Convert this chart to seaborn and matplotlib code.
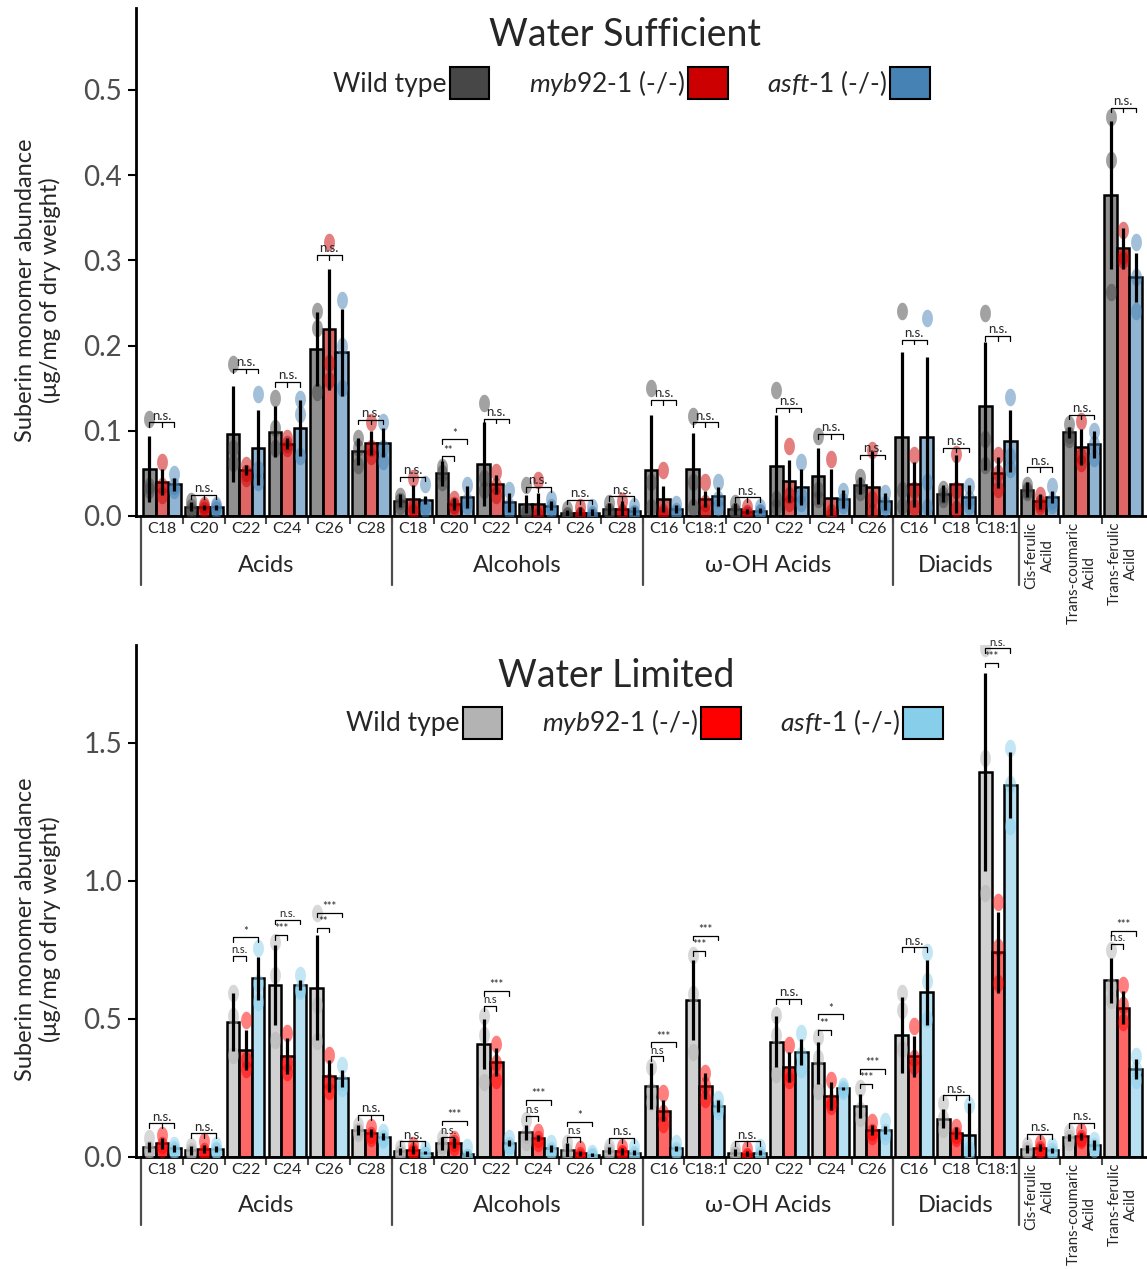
import numpy as np
import pandas as pd
import matplotlib
matplotlib.use('Agg')
import matplotlib.pyplot as plt
import matplotlib.colors as mcolors
from matplotlib.patches import Patch
import seaborn as sns

# --- estilo ---
sns.set_theme(style="ticks")
plt.rcParams['font.family'] = ['Lato', 'DejaVu Sans']
plt.rcParams['mathtext.fontset'] = 'custom'
plt.rcParams['mathtext.it'] = 'Lato:italic'
plt.rcParams['mathtext.rm'] = 'Lato'

# --- categorias ---
cat_labels = ['C18', 'C20', 'C22', 'C24', 'C26', 'C28',
              'C18', 'C20', 'C22', 'C24', 'C26', 'C28',
              'C16', 'C18:1', 'C20', 'C22', 'C24', 'C26',
              'C16', 'C18', 'C18:1',
              'Cis-ferulic\nAcild', 'Trans-coumaric\nAcild', 'Trans-ferulic\nAcild']
cat_groups = ['Acids'] * 6 + ['Alcohols'] * 6 + ['ω-OH Acids'] * 6 + ['Diacids'] * 3 + \
             ['Cis-ferulic', 'Trans-coumaric', 'Trans-ferulic']
group_names = ['Acids', 'Alcohols', 'ω-OH Acids', 'Diacids']
genotypes = ['Wild type', 'myb92-1', 'asft-1']
legend_labels = ['Wild type', r'$\mathit{myb92}$-1 (-/-)', r'$\mathit{asft}$-1 (-/-)']

# --- Water Sufficient ---
ws_wt_mean = [0.055, 0.011, 0.096, 0.099, 0.196, 0.076, 0.018, 0.050, 0.061, 0.014, 0.003, 0.008,
              0.054, 0.055, 0.008, 0.059, 0.047, 0.036, 0.093, 0.026, 0.129, 0.031, 0.098, 0.377]
ws_wt_err = [0.039, 0.005, 0.056, 0.030, 0.043, 0.016, 0.008, 0.015, 0.049, 0.011, 0.004, 0.007,
             0.065, 0.042, 0.007, 0.060, 0.033, 0.010, 0.099, 0.010, 0.075, 0.009, 0.006, 0.087]
ws_myb_mean = [0.040, 0.010, 0.054, 0.085, 0.219, 0.086, 0.020, 0.014, 0.037, 0.014, 0.004, 0.008,
               0.020, 0.020, 0.005, 0.041, 0.021, 0.034, 0.037, 0.037, 0.051, 0.017, 0.081, 0.314]
ws_myb_err = [0.015, 0.003, 0.006, 0.007, 0.071, 0.014, 0.016, 0.007, 0.011, 0.013, 0.007, 0.010,
              0.015, 0.009, 0.003, 0.025, 0.034, 0.042, 0.026, 0.034, 0.018, 0.009, 0.021, 0.024]
ws_asft_mean = [0.037, 0.010, 0.080, 0.103, 0.192, 0.086, 0.019, 0.022, 0.016, 0.012, 0.004, 0.006,
                0.008, 0.023, 0.006, 0.034, 0.020, 0.017, 0.093, 0.022, 0.088, 0.022, 0.084, 0.280]
ws_asft_err = [0.008, 0.003, 0.044, 0.033, 0.051, 0.017, 0.005, 0.013, 0.011, 0.005, 0.004, 0.005,
               0.005, 0.011, 0.003, 0.021, 0.011, 0.010, 0.093, 0.014, 0.036, 0.007, 0.016, 0.029]
ws_wt_pts = [(0.114, 0.035, 0.030), (0.018, 0.010, 0.006), (0.178, 0.080, 0.062), (0.139, 0.103, 0.080),
             (0.240, 0.220, 0.145), (0.092, 0.080, 0.060), (0.023, 0.018, 0.012), (0.058, 0.050, 0.040),
             (0.132, 0.045, 0.030), (0.036, 0.006, 0.004), (0.008, 0.001, 0.000), (0.015, 0.006, 0.004),
             (0.150, 0.040, 0.010), (0.117, 0.040, 0.010), (0.015, 0.006, 0.004), (0.148, 0.020, 0.010),
             (0.094, 0.030, 0.020), (0.046, 0.035, 0.028), (0.240, 0.030, 0.012), (0.032, 0.025, 0.020),
             (0.238, 0.090, 0.060), (0.036, 0.030, 0.028), (0.108, 0.095, 0.090), (0.468, 0.418, 0.263)]
ws_myb_pts = [(0.063, 0.035, 0.025), (0.013, 0.010, 0.007), (0.060, 0.050, 0.045), (0.092, 0.085, 0.080),
              (0.321, 0.180, 0.160), (0.110, 0.080, 0.070), (0.044, 0.010, 0.005), (0.020, 0.013, 0.010),
              (0.052, 0.035, 0.025), (0.042, 0.005, 0.000), (0.011, 0.001, 0.000), (0.018, 0.005, 0.002),
              (0.054, 0.005, 0.001), (0.040, 0.015, 0.005), (0.011, 0.003, 0.001), (0.082, 0.025, 0.015),
              (0.067, 0.005, 0.000), (0.077, 0.020, 0.005), (0.071, 0.030, 0.010), (0.073, 0.030, 0.008),
              (0.071, 0.050, 0.032), (0.025, 0.015, 0.012), (0.111, 0.070, 0.062), (0.336, 0.300, 0.305)]
ws_asft_pts = [(0.049, 0.035, 0.030), (0.013, 0.010, 0.007), (0.143, 0.055, 0.040), (0.137, 0.120, 0.070),
               (0.253, 0.200, 0.150), (0.110, 0.080, 0.065), (0.038, 0.012, 0.008), (0.036, 0.018, 0.012),
               (0.030, 0.012, 0.006), (0.020, 0.010, 0.006), (0.010, 0.002, 0.000), (0.012, 0.004, 0.002),
               (0.014, 0.006, 0.004), (0.040, 0.020, 0.010), (0.010, 0.005, 0.003), (0.063, 0.025, 0.015),
               (0.029, 0.018, 0.013), (0.027, 0.014, 0.010), (0.232, 0.040, 0.010), (0.035, 0.020, 0.012),
               (0.140, 0.070, 0.055), (0.035, 0.018, 0.013), (0.100, 0.085, 0.068), (0.322, 0.280, 0.240)]
ws_sig_myb = ['n.s.'] * 7 + ['**'] + ['n.s.'] * 16
ws_sig_asft = ['n.s.'] * 7 + ['*'] + ['n.s.'] * 16
ws_br_low = [0.110, 0.025, 0.173, 0.157, 0.306, 0.113, 0.046, 0.070, 0.114, 0.034, 0.019, 0.023,
             0.136, 0.110, 0.022, 0.127, 0.096, 0.072, 0.207, 0.080, 0.211, 0.057, 0.119, 0.479]
ws_br_high = [0.110, 0.025, 0.173, 0.157, 0.306, 0.113, 0.046, 0.090, 0.114, 0.034, 0.019, 0.023,
              0.136, 0.110, 0.022, 0.127, 0.096, 0.072, 0.207, 0.080, 0.211, 0.057, 0.119, 0.479]

# --- Water Limited ---
wl_wt_mean = [0.037, 0.024, 0.490, 0.623, 0.613, 0.098, 0.020, 0.050, 0.408, 0.089, 0.025, 0.023,
              0.257, 0.569, 0.016, 0.418, 0.342, 0.185, 0.441, 0.138, 1.395, 0.028, 0.071, 0.640]
wl_wt_err = [0.018, 0.016, 0.105, 0.145, 0.191, 0.018, 0.012, 0.024, 0.091, 0.027, 0.025, 0.014,
             0.083, 0.145, 0.012, 0.091, 0.076, 0.043, 0.137, 0.034, 0.359, 0.015, 0.012, 0.082]
wl_myb_mean = [0.049, 0.029, 0.388, 0.366, 0.293, 0.086, 0.026, 0.050, 0.343, 0.068, 0.013, 0.020,
               0.168, 0.257, 0.011, 0.327, 0.221, 0.098, 0.364, 0.087, 0.741, 0.034, 0.075, 0.541]
wl_myb_err = [0.020, 0.015, 0.072, 0.064, 0.059, 0.015, 0.014, 0.018, 0.051, 0.012, 0.010, 0.012,
              0.039, 0.046, 0.010, 0.055, 0.052, 0.018, 0.074, 0.021, 0.148, 0.012, 0.012, 0.059]
wl_asft_mean = [0.031, 0.029, 0.648, 0.623, 0.285, 0.074, 0.016, 0.011, 0.050, 0.031, 0.007, 0.016,
                0.031, 0.185, 0.016, 0.379, 0.249, 0.098, 0.597, 0.078, 1.347, 0.024, 0.043, 0.319]
wl_asft_err = [0.012, 0.011, 0.078, 0.018, 0.030, 0.012, 0.006, 0.012, 0.012, 0.012, 0.006, 0.008,
               0.010, 0.022, 0.010, 0.047, 0.006, 0.014, 0.118, 0.116, 0.119, 0.010, 0.018, 0.037]
wl_wt_pts = [(0.068, 0.030, 0.020), (0.040, 0.020, 0.015), (0.593, 0.509, 0.370), (0.780, 0.660, 0.425),
             (0.883, 0.550, 0.420), (0.115, 0.095, 0.085), (0.032, 0.015, 0.010), (0.070, 0.045, 0.035),
             (0.509, 0.440, 0.270), (0.134, 0.080, 0.055), (0.050, 0.020, 0.005), (0.037, 0.020, 0.012),
             (0.327, 0.240, 0.200), (0.732, 0.590, 0.380), (0.030, 0.012, 0.006), (0.515, 0.440, 0.300),
             (0.436, 0.360, 0.240), (0.249, 0.170, 0.140), (0.593, 0.534, 0.390), (0.194, 0.140, 0.100),
             (1.843, 1.444, 0.955), (0.045, 0.025, 0.015), (0.090, 0.070, 0.055), (0.748, 0.620, 0.570)]
wl_myb_pts = [(0.078, 0.045, 0.030), (0.056, 0.020, 0.012), (0.497, 0.350, 0.320), (0.448, 0.340, 0.309),
              (0.370, 0.270, 0.240), (0.110, 0.080, 0.070), (0.045, 0.020, 0.013), (0.065, 0.050, 0.035),
              (0.410, 0.340, 0.280), (0.090, 0.065, 0.050), (0.030, 0.008, 0.000), (0.035, 0.015, 0.010),
              (0.231, 0.160, 0.120), (0.303, 0.260, 0.210), (0.030, 0.005, 0.000), (0.406, 0.300, 0.280),
              (0.279, 0.200, 0.185), (0.128, 0.090, 0.075), (0.475, 0.360, 0.330), (0.110, 0.080, 0.070),
              (0.925, 0.760, 0.630), (0.050, 0.030, 0.022), (0.095, 0.070, 0.060), (0.622, 0.550, 0.490)]
wl_asft_pts = [(0.045, 0.030, 0.020), (0.042, 0.025, 0.020), (0.756, 0.630, 0.560), (0.660, 0.610, 0.600),
               (0.333, 0.270, 0.250), (0.090, 0.070, 0.060), (0.030, 0.010, 0.008), (0.035, 0.000, 0.000),
               (0.070, 0.045, 0.035), (0.050, 0.025, 0.018), (0.015, 0.005, 0.000), (0.035, 0.010, 0.003),
               (0.050, 0.025, 0.018), (0.210, 0.180, 0.165), (0.035, 0.010, 0.003), (0.448, 0.370, 0.320),
               (0.258, 0.245, 0.240), (0.130, 0.090, 0.075), (0.741, 0.637, 0.500), (0.187, 0.030, 0.015),
               (1.480, 1.350, 1.200), (0.040, 0.020, 0.012), (0.060, 0.040, 0.030), (0.364, 0.320, 0.280)]
wl_sig_myb = ['n.s.', 'n.s.', 'n.s.', '***', '**', 'n.s.', 'n.s.', 'n.s.', 'n.s', 'n.s', 'n.s', 'n.s.',
              'n.s', '***', 'n.s.', 'n.s.', '**', '***', 'n.s.', 'n.s.', '***', 'n.s.', 'n.s.', 'n.s.']
wl_sig_asft = ['n.s.', 'n.s.', '*', 'n.s.', '***', 'n.s.', 'n.s.', '***', '***', '***', '*', 'n.s.',
               '***', '***', 'n.s.', 'n.s.', '*', '***', 'n.s.', 'n.s.', 'n.s.', 'n.s.', 'n.s.', '***']
wl_br_low = [0.122, 0.086, 0.728, 0.804, 0.831, 0.152, 0.056, 0.074, 0.547, 0.148, 0.072, 0.068,
             0.364, 0.746, 0.056, 0.572, 0.460, 0.265, 0.759, 0.223, 1.791, 0.083, 0.123, 0.771]
wl_br_high = [0.122, 0.086, 0.796, 0.859, 0.885, 0.152, 0.056, 0.132, 0.601, 0.206, 0.128, 0.068,
              0.415, 0.802, 0.056, 0.572, 0.517, 0.319, 0.759, 0.223, 1.843, 0.083, 0.123, 0.818]

ws_colors = ['#474747', '#cc0000', '#4682b4']
wl_colors = ['#b3b3b3', '#ff0000', '#87ceeb']

# marcador elíptico (pontos alongados como no original)
t = np.linspace(0, 2 * np.pi, 40)
ELIPSE = np.column_stack([0.62 * np.cos(t), np.sin(t)])


def desenhar_colchete(ax, x0, x1, h, tick, label, fs, mids=()):
    ax.plot([x0, x0, x1, x1], [h - tick, h, h, h - tick], color='black', lw=0.9, zorder=6)
    for m in mids:
        ax.plot([m, m], [h, h - tick], color='black', lw=0.9, zorder=6)
    ax.text((x0 + x1) / 2, h + tick * 0.15, label, ha='center', va='bottom', fontsize=fs, zorder=6)


def painel(ax, title, colors, means, errs, pts, sig_myb, sig_asft, br_low, br_high,
           ymax, yticks, title_pos, leg_pos, grp_y, line_y):
    keys = [f'{g}|{c}|{i}' for i, (g, c) in enumerate(zip(cat_groups, cat_labels))]
    df = pd.DataFrame({
        'key': keys * 3,
        'genotype': np.repeat(genotypes, len(keys)),
        'value': np.concatenate(means),
    })
    sns.barplot(data=df, x='key', y='value', hue='genotype', order=keys, hue_order=genotypes,
                palette=colors, width=0.9, saturation=1, errorbar=None, legend=False,
                edgecolor='black', linewidth=1.8, ax=ax, zorder=2)

    conts = list(ax.containers)
    centers = []
    for i, cont in enumerate(conts):
        xs = []
        for bar in cont:
            bar.set_facecolor(mcolors.to_rgba(colors[i], 0.6))
            bar.set_edgecolor('black')
            xs.append(bar.get_x() + bar.get_width() / 2)
        centers.append(np.array(xs))
        # pontos individuais
        px = np.repeat(xs, 3)
        py = np.array(pts[i]).ravel()
        ax.scatter(px, py, marker=ELIPSE, s=160, color=colors[i], alpha=0.5,
                   linewidths=0, zorder=3)
        ax.errorbar(xs, means[i], yerr=errs[i], fmt='none', ecolor='black',
                    elinewidth=2.3, capsize=0, zorder=4)

    # colchetes de significância
    tick = ymax * 0.009
    for j in range(len(keys)):
        xw, xm, xa = centers[0][j], centers[1][j], centers[2][j]
        if br_low[j] == br_high[j] and sig_myb[j] == sig_asft[j]:
            desenhar_colchete(ax, xw, xa, br_low[j], tick, sig_myb[j], 9.5, mids=(xm,))
        else:
            desenhar_colchete(ax, xw, xm, br_low[j], tick, sig_myb[j], 8)
            desenhar_colchete(ax, xw, xa, br_high[j], tick, sig_asft[j], 8)

    # eixos
    ax.set_xlim(-0.62, 23.57)
    ax.set_ylim(0, ymax)
    ax.set_yticks(yticks)
    ax.set_yticklabels([f'{v:.1f}' for v in yticks], fontsize=20, color='#4d4d4d')
    ax.tick_params(axis='y', length=6, width=1.5, color='black', pad=4)
    ax.set_xticks(range(len(keys)))
    ax.set_xticklabels(cat_labels, fontsize=11.5)
    for lab in ax.get_xticklabels()[21:]:
        lab.set_rotation(90)
        lab.set_multialignment('center')
        lab.set_fontsize(10.8)
    ax.tick_params(axis='x', which='major', length=0, pad=4)
    ax.set_xticks(np.arange(0.5, 23, 1), minor=True)
    ax.tick_params(axis='x', which='minor', length=6, width=1.5, color='#4d4d4d')
    ax.set_xlabel('')
    ax.set_ylabel('Suberin monomer abundance\n(μg/mg of dry weight)', fontsize=17)
    ax.yaxis.set_label_coords(-0.097, 0.445)
    ax.yaxis.label.set_va('center')
    sns.despine(ax=ax)
    ax.spines['left'].set_linewidth(2)
    ax.spines['bottom'].set_linewidth(2)
    ax.spines['left'].set_color('black')
    ax.spines['bottom'].set_color('black')

    # linhas e rótulos dos grupos
    trans = ax.get_xaxis_transform()
    for b in [-0.5, 5.5, 11.5, 17.5, 20.5]:
        ax.plot([b, b], [0, line_y], transform=trans, clip_on=False, color='#4d4d4d', lw=1.6)
    for g in group_names:
        idx = [i for i, cg in enumerate(cat_groups) if cg == g]
        ax.text(np.mean(idx), grp_y, g, transform=trans, ha='center', va='center', fontsize=17)

    ax.text(title_pos[0], title_pos[1], title, transform=ax.transAxes, ha='center',
            va='center', fontsize=27)
    handles = [Patch(facecolor=c, edgecolor='black', linewidth=1.5) for c in colors]
    ax.legend(handles, legend_labels, ncol=3, loc='center', bbox_to_anchor=leg_pos,
              frameon=False, markerfirst=False, fontsize=19, handlelength=1.5,
              handleheight=1.5, handletextpad=0.12, columnspacing=1.5)


fig = plt.figure(figsize=(11.47, 12.69), dpi=100)
ax1 = fig.add_axes([0.1186, 0.5934, 0.8814, 0.4003])
ax2 = fig.add_axes([0.1186, 0.0883, 0.8814, 0.4035])

painel(ax1, 'Water Sufficient', ws_colors,
       [ws_wt_mean, ws_myb_mean, ws_asft_mean], [ws_wt_err, ws_myb_err, ws_asft_err],
       [ws_wt_pts, ws_myb_pts, ws_asft_pts], ws_sig_myb, ws_sig_asft, ws_br_low, ws_br_high,
       0.596, [0.0, 0.1, 0.2, 0.3, 0.4, 0.5], (0.484, 0.947), (0.49, 0.852), -0.098, -0.136)
painel(ax2, 'Water Limited', wl_colors,
       [wl_wt_mean, wl_myb_mean, wl_asft_mean], [wl_wt_err, wl_myb_err, wl_asft_err],
       [wl_wt_pts, wl_myb_pts, wl_asft_pts], wl_sig_myb, wl_sig_asft, wl_br_low, wl_br_high,
       1.855, [0.0, 0.5, 1.0, 1.5], (0.475, 0.939), (0.503, 0.848), -0.094, -0.133)

fig.savefig('out.png', dpi=100)
